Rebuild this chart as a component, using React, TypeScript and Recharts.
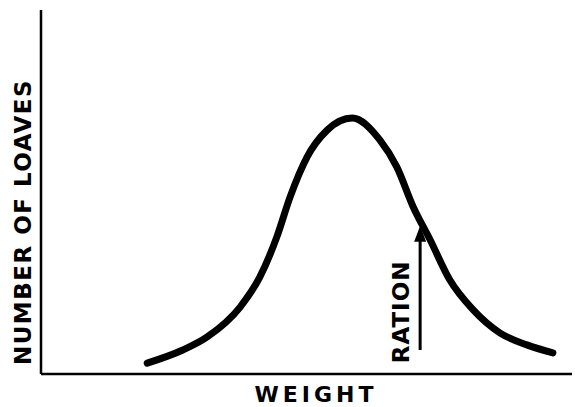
import { ComposedChart, Line, XAxis, YAxis, ReferenceLine } from "recharts";

const weights = [20.0, 26.7, 31.3, 37.5, 41.2, 44.4, 46.9, 50.1, 53.9, 58.6, 63.8, 67.0, 70.1, 73.3, 77.0, 81.4, 86.4, 91.5, 96.4];
const loaves = [3.0, 6.6, 10.2, 18.4, 26.6, 37.6, 48.6, 59.6, 67.0, 70.3, 64.3, 56.9, 45.9, 36.8, 25.8, 17.6, 11.3, 8.0, 5.8];

const rationWeight = 71.4;
const rationFrom = 6.6;
const rationTo = 40.7;

const xTitle = "WEIGHT";
const yTitle = "NUMBER OF LOAVES";
const rationLabel = "RATION";

const data = weights.map((w, i) => ({ weight: w, loaves: loaves[i] }));

const FONT = "'DejaVu Sans', sans-serif";

function RationArrow(props: any) {
  const { x1, y1, x2, y2 } = props;
  const x = x1;
  const top = Math.min(y1, y2);
  const bottom = Math.max(y1, y2);
  const ly = (top + bottom) / 2 + 24;
  return (
    <g>
      <line x1={x} y1={bottom} x2={x} y2={top + 10} stroke="#000" strokeWidth={3} />
      <polygon points={`${x},${top} ${x - 6},${top + 16} ${x + 6},${top + 16}`} fill="#000" />
      <text
        x={x - 19}
        y={ly}
        transform={`rotate(-90 ${x - 19} ${ly})`}
        textAnchor="middle"
        dominantBaseline="central"
        fontFamily={FONT}
        fontWeight="bold"
        fontSize={23}
        letterSpacing={1}
        fill="#000"
      >
        {rationLabel}
      </text>
    </g>
  );
}

function XTitle(p: any) {
  const { x, y, width } = p.viewBox;
  return (
    <text
      x={x + width * 0.518}
      y={y + 28}
      textAnchor="middle"
      fontFamily={FONT}
      fontWeight="bold"
      fontSize={22}
      letterSpacing={4}
      fill="#000"
    >
      {xTitle}
    </text>
  );
}

function YTitle(p: any) {
  const { x } = p.viewBox;
  const cx = x - 18;
  const cy = 222;
  return (
    <text
      x={cx}
      y={cy}
      transform={`rotate(-90 ${cx} ${cy})`}
      textAnchor="middle"
      dominantBaseline="central"
      fontFamily={FONT}
      fontWeight="bold"
      fontSize={23}
      letterSpacing={1.5}
      fill="#000"
    >
      {yTitle}
    </text>
  );
}

export default function App() {
  return (
    <div style={{ position: "absolute", left: 0, top: 0, background: "#fff" }}>
      <ComposedChart width={575} height={407} data={data} margin={{ top: 10, right: 3, left: 41, bottom: 33 }}>
        <XAxis type="number" dataKey="weight" domain={[0, 100]} hide />
        <YAxis type="number" domain={[0, 100]} hide />
        <ReferenceLine y={0} stroke="#000" strokeWidth={2.5} label={XTitle} />
        <ReferenceLine x={0} stroke="#000" strokeWidth={2.5} label={YTitle} />
        <Line
          type="monotone"
          dataKey="loaves"
          stroke="#000"
          strokeWidth={7}
          strokeLinecap="round"
          dot={false}
          activeDot={false}
          isAnimationActive={false}
        />
        <ReferenceLine
          segment={[
            { x: rationWeight, y: rationFrom },
            { x: rationWeight, y: rationTo },
          ]}
          shape={RationArrow}
        />
      </ComposedChart>
    </div>
  );
}
